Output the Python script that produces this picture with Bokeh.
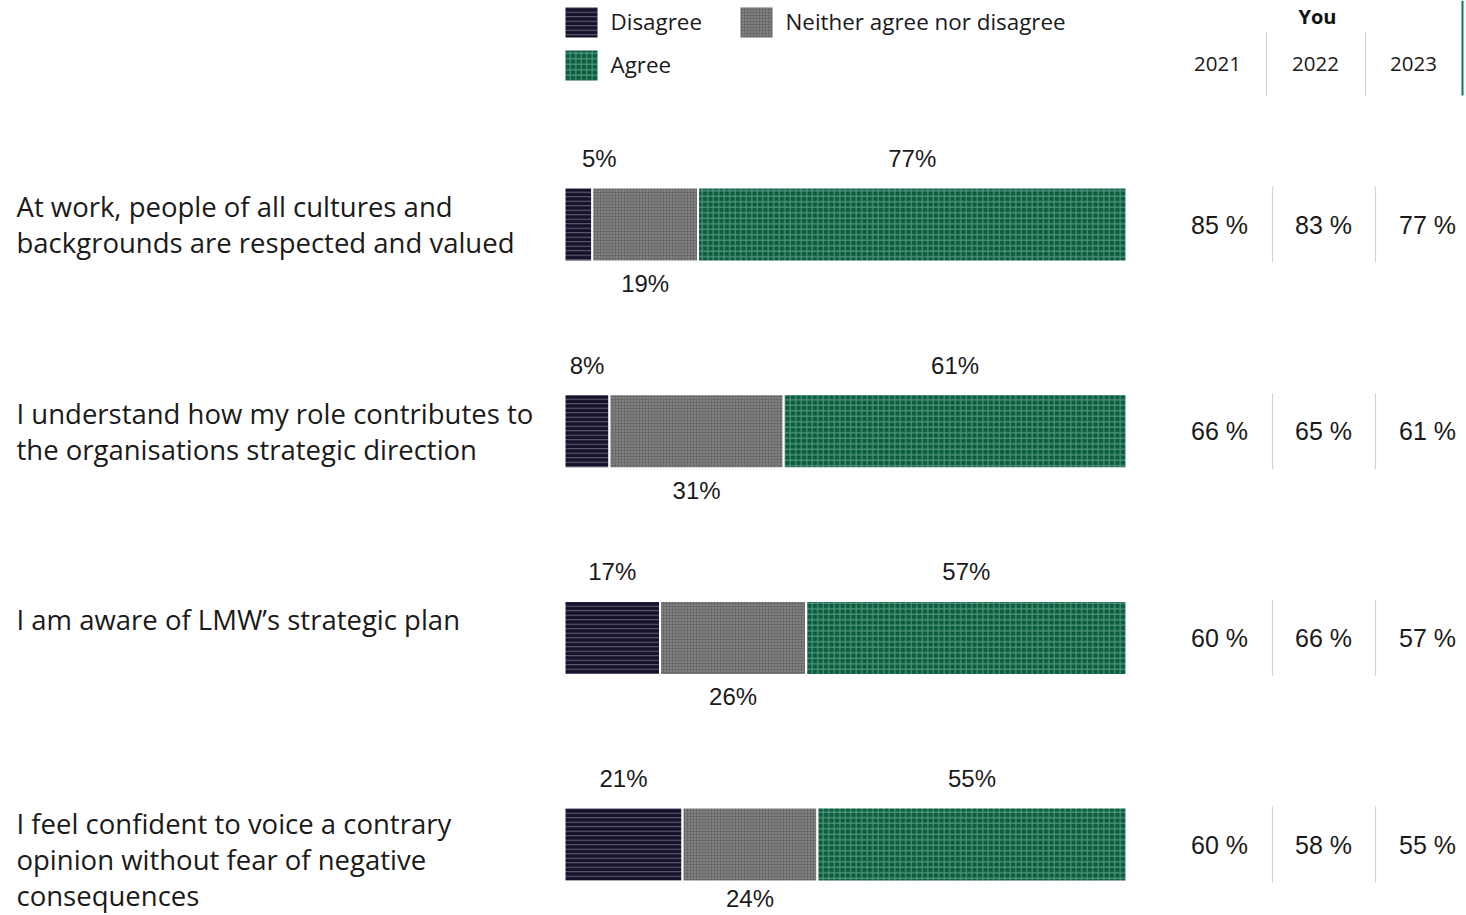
from bokeh.plotting import figure
from bokeh.models import Range1d
from bokeh.core.properties import value
from bokeh.embed import file_html
from bokeh.resources import INLINE

# ---------------- data ----------------
questions = [
    ["At work, people of all cultures and", "backgrounds are respected and valued"],
    ["I understand how my role contributes to", "the organisations strategic direction"],
    ["I am aware of LMW\u2019s strategic plan"],
    ["I feel confident to voice a contrary", "opinion without fear of negative", "consequences"],
]
disagree = [5, 8, 17, 21]
neither = [19, 31, 26, 24]
agree = [77, 61, 57, 55]
years = ["2021", "2022", "2023"]
agree_2021 = [85, 66, 60, 60]
agree_2022 = [83, 65, 66, 58]
agree_2023 = [77, 61, 57, 55]
legend_labels = ["Disagree", "Neither agree nor disagree", "Agree"]

# ---------------- layout ----------------
W, H = 1466, 915
X0 = 564.0        # px where 0% sits
SX = 5.62         # px per percent
Y0 = 224.0        # px of first row centre
SY = 206.7        # px per row

def xs(px):
    return (px - X0) / SX

def ys(px):
    return (px - Y0) / SY

C_DIS = "#14122c"
C_NEI = "#6a6a6a"
C_AGR = "#0b5d40"
FONT_Q = value("Open Sans")
FONT_P = value("Liberation Sans")

p = figure(width=W, height=H, output_backend="svg", toolbar_location=None,
           x_range=Range1d(xs(0), xs(W)), y_range=Range1d(ys(H), ys(0)),
           x_axis_type=None, y_axis_type=None, min_border=0)
p.outline_line_color = None
p.background_fill_color = "white"

rows = list(range(len(questions)))
bar_h = 74 / SY
tot = [d + n + a for d, n, a in zip(disagree, neither, agree)]
d_n = [100 * d / t for d, t in zip(disagree, tot)]
n_n = [100 * n / t for n, t in zip(neither, tot)]
e1 = d_n
e2 = [d + n for d, n in zip(d_n, n_n)]
e3 = [100.0] * len(rows)

common = dict(height=bar_h, line_color="white", line_width=2)
H_DIS = dict(hatch_pattern="horizontal_line", hatch_color="#ffffff", hatch_alpha=0.35,
             hatch_scale=4.5, hatch_weight=1)
H_NEI = dict(hatch_pattern="dot", hatch_color="#b5b5b5", hatch_alpha=0.8,
             hatch_scale=3, hatch_weight=1)
H_AGR = dict(hatch_pattern="cross", hatch_color="#9ad0b5", hatch_alpha=0.55,
             hatch_scale=5.5, hatch_weight=1)
p.hbar(y=rows, left=[0] * 4, right=e1, fill_color=C_DIS, **H_DIS, **common)
p.hbar(y=rows, left=e1, right=e2, fill_color=C_NEI, **H_NEI, **common)
p.hbar(y=rows, left=e2, right=e3, fill_color=C_AGR, **H_AGR, **common)

# value labels
dis_x = [6.2 if d < 6 else d / 2 for d in d_n]
nei_x = [a + (b - a) / 2 for a, b in zip(e1, e2)]
agr_x = [a + (b - a) / 2 for a, b in zip(e2, e3)]
above = [r + (-66 / SY) for r in rows]
below = [min(r + (59 / SY), ys(H - 17)) for r in rows]
lab = dict(text_font=FONT_P, text_font_size="24px", text_color="#1a1a1a",
           text_align="center", text_baseline="middle")
p.text(x=dis_x, y=above, text=[f"{v}%" for v in disagree], **lab)
p.text(x=agr_x, y=above, text=[f"{v}%" for v in agree], **lab)
p.text(x=nei_x, y=below, text=[f"{v}%" for v in neither], **lab)

# question labels
qx, qy, qt = [], [], []
for r, lines in enumerate(questions):
    first = -18
    last_px = Y0 + r * SY + first + 36 * (len(lines) - 1)
    if last_px > H - 20:
        first -= last_px - (H - 20)
    for i, line in enumerate(lines):
        qx.append(xs(16))
        qy.append(r + (first + 36 * i) / SY)
        qt.append(line)
p.text(x=qx, y=qy, text=qt, text_font=FONT_Q, text_font_size="27.5px",
       text_color="#1a1a1a", text_align="left", text_baseline="middle")

# table
col_px = [1219, 1323, 1427]
for ci, vals in enumerate([agree_2021, agree_2022, agree_2023]):
    p.text(x=[xs(col_px[ci])] * 4, y=rows, text=[f"{v} %" for v in vals],
           text_font=FONT_P, text_font_size="25px", text_color="#1a1a1a",
           text_align="center", text_baseline="middle")
for sp in [1272, 1375]:
    p.segment(x0=[xs(sp)] * 4, x1=[xs(sp)] * 4,
              y0=[r - 38 / SY for r in rows], y1=[r + 38 / SY for r in rows],
              line_color="#d4d4d4", line_width=1.2)

# header
p.text(x=[xs(1317)], y=[ys(16)], text=["You"], text_font=FONT_Q,
       text_font_style="bold", text_font_size="20px", text_color="#111111",
       text_align="center", text_baseline="middle")
p.text(x=[xs(c) for c in [1217, 1315, 1413]], y=[ys(63)] * 3, text=years,
       text_font=FONT_Q, text_font_size="20.5px", text_color="#1a1a1a",
       text_align="center", text_baseline="middle")
p.segment(x0=[xs(1266), xs(1365)], x1=[xs(1266), xs(1365)],
          y0=[ys(32)] * 2, y1=[ys(95)] * 2, line_color="#d4d4d4", line_width=1.2)
p.segment(x0=[xs(1462)], x1=[xs(1462)], y0=[ys(0)], y1=[ys(95)],
          line_color="#0b7a4b", line_width=2)

# legend
sw_px = [(581, 22), (756, 22), (581, 65)]
cols = [C_DIS, C_NEI, C_AGR]
for (sx, sy), hd, c, t in zip(sw_px, [H_DIS, H_NEI, H_AGR], cols, legend_labels):
    p.rect(x=[xs(sx)], y=[ys(sy)], width=32, height=30, width_units="screen",
           height_units="screen", fill_color=c, line_color=None, **hd)
    p.text(x=[xs(sx + 29)], y=[ys(sy - 1)], text=[t], text_font=FONT_Q,
           text_font_size="22.4px", text_color="#1a1a1a", text_align="left",
           text_baseline="middle")

open("out.html", "w").write(file_html(p, INLINE))
